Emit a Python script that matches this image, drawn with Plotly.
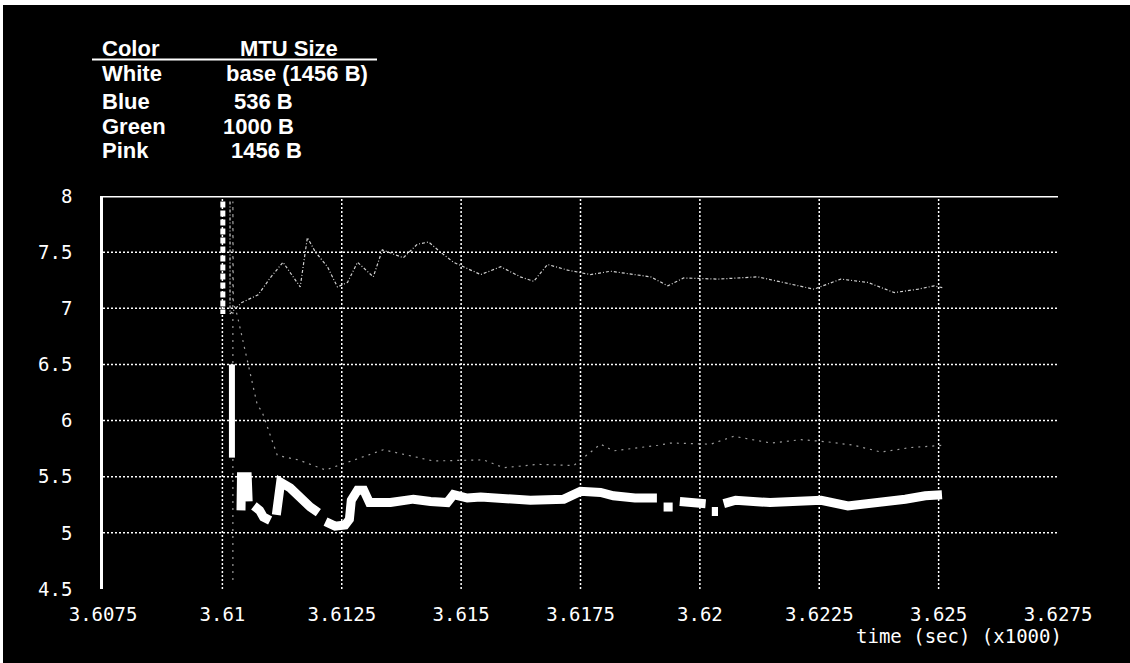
import plotly.graph_objects as go

# ---- data -------------------------------------------------------------
# time axis in seconds (x1000); None breaks a trace
# base run: vertical jumps at start-up
spike_top_t = [3.61001, 3.61001]
spike_top_v = [7.95, 6.95]
spike_bar_t = [3.61020, 3.61020]
spike_bar_v = [6.50, 5.67]

base_t = [3.61039, 3.61040, 3.61052, 3.61054, None,
          3.61066, 3.61078, 3.61086, 3.61100, None,
          3.61113, 3.61122, 3.61142, 3.61163, 3.61184, 3.61201, None,
          3.61216, 3.61236, 3.61257, 3.61266, 3.61270, 3.61283, 3.61296, 3.61308,
          3.61352, 3.61400, 3.61436, 3.61471, 3.61484, 3.61513, 3.61541, 3.61583,
          3.61645, 3.61715, 3.61750, 3.61792, 3.61819, 3.61864, 3.61910, None,
          3.61924, 3.61943, None,
          3.61958, 3.62004, 3.62012, None,
          3.62025, 3.62038, None,
          3.62050, 3.62075, 3.62147, 3.62218, 3.62254, 3.62310, 3.62358, 3.62430,
          3.62472, 3.62507]
base_v = [5.20, 5.50, 5.50, 5.28, None,
          5.24, 5.20, 5.14, 5.11, None,
          5.16, 5.45, 5.40, 5.31, 5.23, 5.18, None,
          5.10, 5.06, 5.07, 5.12, 5.29, 5.38, 5.38, 5.27,
          5.27, 5.30, 5.28, 5.27, 5.34, 5.31, 5.32, 5.30,
          5.29, 5.30, 5.37, 5.36, 5.33, 5.31, 5.31, None,
          5.23, 5.23, None,
          5.28, 5.28, 5.26, None,
          5.19, 5.19, None,
          5.26, 5.29, 5.27, 5.28, 5.29, 5.24, 5.26, 5.30,
          5.33, 5.34]

mtu536_t = [3.61016, 3.61016, 3.61040, 3.61075, 3.61100, 3.61127, 3.61163, 3.61178,
            3.61195, 3.61220, 3.61241, 3.61262, 3.61283, 3.61316, 3.61335, 3.61379,
            3.61408, 3.61432, 3.61457, 3.61484, 3.61541, 3.61583, 3.61624, 3.61652,
            3.61681, 3.61723, 3.61771, 3.61813, 3.61897, 3.61933, 3.61966, 3.62038,
            3.62121, 3.62176, 3.62239, 3.62295, 3.62352, 3.62407, 3.62457, 3.62491,
            3.62511]
mtu536_v = [7.95, 6.95, 7.05, 7.12, 7.27, 7.41, 7.19, 7.63,
            7.50, 7.37, 7.19, 7.23, 7.41, 7.28, 7.52, 7.45,
            7.57, 7.59, 7.50, 7.41, 7.30, 7.37, 7.28, 7.24,
            7.39, 7.34, 7.30, 7.33, 7.28, 7.20, 7.27, 7.26,
            7.28, 7.23, 7.17, 7.26, 7.23, 7.14, 7.17, 7.20,
            7.18]

mtu1000_t = [3.61022, 3.61022, 3.61023, 3.61031, 3.61073, 3.61083, 3.61115, 3.61159,
             3.61216, 3.61337, 3.61442, 3.61547, 3.61589, 3.61660, 3.61736, 3.61792,
             3.61819, 3.61912, 3.61939, 3.62023, 3.62071, 3.62149, 3.62212, 3.62268,
             3.62323, 3.62379, 3.62442, 3.62511]
mtu1000_v = [4.58, 7.95, 7.05, 6.94, 6.14, 6.08, 5.69, 5.65,
             5.56, 5.74, 5.64, 5.65, 5.58, 5.61, 5.60, 5.79,
             5.73, 5.78, 5.80, 5.79, 5.86, 5.80, 5.83, 5.81,
             5.78, 5.72, 5.76, 5.78]

x_ticks = [3.6075, 3.61, 3.6125, 3.615, 3.6175, 3.62, 3.6225, 3.625, 3.6275]
x_tick_text = ["3.6075", "3.61", "3.6125", "3.615", "3.6175", "3.62", "3.6225", "3.625", "3.6275"]
y_ticks = [4.5, 5, 5.5, 6, 6.5, 7, 7.5, 8]
y_tick_text = ["4.5", "5", "5.5", "6", "6.5", "7", "7.5", "8"]

key_colors = ["White", "Blue", "Green", "Pink"]
key_sizes = ["base (1456 B)", "536 B", "1000 B", "1456 B"]

# ---- page geometry ------------------------------------------------------
W, H = 1130, 663
L, R, T, B = 103, 72, 196, 74
PW, PH = W - L - R, H - T - B


def px(x):
    return (x - L) / PW


def py(y):
    return (H - B - y) / PH


MONO = "DejaVu Sans Mono"
SANS = "Liberation Sans, Arial, sans-serif"

fig = go.Figure()

fig.add_trace(go.Scatter(
    x=mtu1000_t, y=mtu1000_v, mode="lines", name="1000 B",
    line=dict(color="#9c9c9c", width=1.2, dash="2px,5px"),
    connectgaps=False,
))
fig.add_trace(go.Scatter(
    x=mtu536_t, y=mtu536_v, mode="lines", name="536 B",
    line=dict(color="#d0d0d0", width=1.2, dash="3px,2px,1px,2px"),
    connectgaps=False,
))
fig.add_trace(go.Scatter(
    x=spike_top_t, y=spike_top_v, mode="lines", name="base start",
    line=dict(color="white", width=5, dash="6px,3px"),
))
fig.add_trace(go.Scatter(
    x=spike_bar_t, y=spike_bar_v, mode="lines", name="base drop",
    line=dict(color="white", width=6),
))
fig.add_trace(go.Scatter(
    x=base_t, y=base_v, mode="lines", name="base (1456 B)",
    line=dict(color="white", width=9),
    connectgaps=False,
))

shapes = []
grid = dict(color="white", width=1.5, dash="2px,2px")
for xv in x_ticks[1:-1]:
    shapes.append(dict(type="line", xref="x", yref="y", x0=xv, x1=xv,
                       y0=4.5, y1=8, line=grid, layer="below"))
for yv in y_ticks[1:-1]:
    shapes.append(dict(type="line", xref="x", yref="y", x0=3.6075, x1=3.6275,
                       y0=yv, y1=yv, line=grid, layer="below"))
# solid frame line along the top
shapes.append(dict(type="line", xref="x", yref="y", x0=3.6075, x1=3.62785,
                   y0=8, y1=8, line=dict(color="white", width=3)))
# rule under the key heading
shapes.append(dict(type="line", xref="paper", yref="paper", x0=px(92), x1=px(377),
                   y0=py(59.5), y1=py(59.5), line=dict(color="white", width=2)))
# light page edges
shapes.append(dict(type="rect", xref="paper", yref="paper", x0=px(0), x1=px(W),
                   y0=py(0), y1=py(5), fillcolor="white", line=dict(width=0)))
shapes.append(dict(type="rect", xref="paper", yref="paper", x0=px(0), x1=px(3),
                   y0=py(0), y1=py(H), fillcolor="white", line=dict(width=0)))

annotations = []
key_font = dict(family=SANS, size=22, color="white", weight="bold")


def key_text(text, x, y):
    annotations.append(dict(text=text, xref="paper", yref="paper", x=px(x), y=py(y),
                            xanchor="left", yanchor="middle", showarrow=False,
                            font=key_font, borderpad=0))


key_text("Color", 101, 48)
key_text("MTU Size", 239, 48)
row_y = [73.5, 101.5, 126.5, 151]
size_x = [225, 233, 222, 230]
for name, size, yy, sx in zip(key_colors, key_sizes, row_y, size_x):
    key_text(name, 101, yy)
    key_text(size, sx, yy)

annotations.append(dict(text="time (sec) (x1000)", xref="paper", yref="paper",
                        x=px(1064), y=py(636), xanchor="right", yanchor="middle",
                        showarrow=False, font=dict(family=MONO, size=19, color="white")))

fig.update_layout(
    width=W, height=H,
    margin=dict(l=L, r=R, t=T, b=B, pad=0),
    paper_bgcolor="black", plot_bgcolor="black",
    showlegend=False,
    shapes=shapes, annotations=annotations,
    xaxis=dict(range=[3.6075, 3.6275], tickvals=x_ticks, ticktext=x_tick_text,
               showgrid=False, zeroline=False, showline=False, ticks="",
               ticklabelstandoff=12,
               tickfont=dict(family=MONO, size=19, color="white")),
    yaxis=dict(range=[4.5, 8], tickvals=y_ticks, ticktext=y_tick_text,
               showgrid=False, zeroline=False, showline=True, linecolor="white",
               linewidth=2.5, ticks="", ticklabelstandoff=24,
               tickfont=dict(family=MONO, size=19, color="white")),
)

fig.write_html("out.html")
